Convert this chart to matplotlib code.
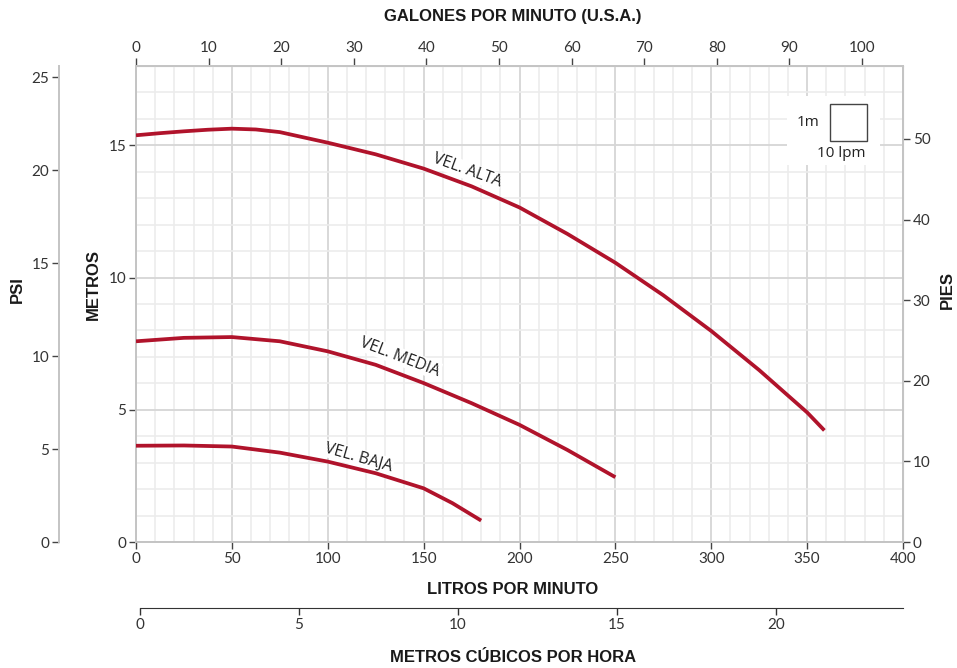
import matplotlib
matplotlib.use("Agg")
import matplotlib.pyplot as plt
from matplotlib.ticker import MultipleLocator
from matplotlib.patches import Rectangle

# caudal en litros por minuto, altura en metros
alta_lpm = [0, 12.5, 25, 37.5, 50, 62.5, 75, 100, 125, 150, 175, 200, 225, 250, 275, 300, 325, 350, 359]
alta_m = [15.38, 15.46, 15.53, 15.59, 15.63, 15.60, 15.50, 15.10, 14.66, 14.12, 13.45, 12.65,
          11.65, 10.56, 9.33, 7.98, 6.50, 4.90, 4.22]

media_lpm = [0, 25, 50, 75, 100, 125, 150, 175, 200, 225, 250]
media_m = [7.59, 7.72, 7.75, 7.59, 7.21, 6.70, 6.01, 5.25, 4.43, 3.48, 2.45]

baja_lpm = [0, 25, 50, 75, 100, 125, 150, 165, 180]
baja_m = [3.64, 3.65, 3.61, 3.38, 3.04, 2.60, 2.03, 1.47, 0.81]

curve_labels = ['VEL. ALTA', 'VEL. MEDIA', 'VEL. BAJA']

lpm_ticks = [0, 50, 100, 150, 200, 250, 300, 350, 400]
m_ticks = [0, 5, 10, 15]
gpm_ticks = [0, 10, 20, 30, 40, 50, 60, 70, 80, 90, 100]
ft_ticks = [0, 10, 20, 30, 40, 50]
psi_ticks = [0, 5, 10, 15, 20, 25]
m3h_ticks = [0, 5, 10, 15, 20]

RED = '#b0132b'
TICKFONT = 'Lato'
BOLDFONT = ['Liberation Sans Narrow', 'Liberation Sans', 'DejaVu Sans']

W, H = 957, 668
fig = plt.figure(figsize=(W / 100, H / 100), dpi=100)

def box(x0, y0, x1, y1):
    # pixel box -> figure fraction
    return [x0 / W, 1 - y1 / H, (x1 - x0) / W, (y1 - y0) / H]

ax = fig.add_axes(box(136, 66, 903, 542))
ax.set_xlim(0, 400)
ax.set_ylim(0, 18)

ax.xaxis.set_major_locator(MultipleLocator(50))
ax.xaxis.set_minor_locator(MultipleLocator(10))
ax.yaxis.set_major_locator(MultipleLocator(5))
ax.yaxis.set_minor_locator(MultipleLocator(1))
ax.set_xticks(lpm_ticks)
ax.set_yticks(m_ticks)
ax.grid(which='minor', color='#ececec', lw=1.2)
ax.grid(which='major', color='#d6d6d6', lw=1.3)
ax.set_axisbelow(True)
for s in ax.spines.values():
    s.set_color('#c4c4c4')
    s.set_linewidth(1.4)
ax.tick_params(which='minor', length=0)
ax.tick_params(which='major', length=5, width=1, color='#444444', labelsize=11,
               labelcolor='#333333', pad=2)
for lab in ax.get_xticklabels() + ax.get_yticklabels():
    lab.set_family(TICKFONT)

ax.plot(alta_lpm, alta_m, color=RED, lw=2.7, solid_capstyle='butt', solid_joinstyle='round', zorder=4)
ax.plot(media_lpm, media_m, color=RED, lw=2.7, solid_capstyle='butt', solid_joinstyle='round', zorder=4)
ax.plot(baja_lpm, baja_m, color=RED, lw=2.7, solid_capstyle='butt', solid_joinstyle='round', zorder=4)

lab_kw = dict(family='Open Sans', fontsize=11.5, color='#222222', ha='center', va='center',
              rotation_mode='anchor', zorder=3,
              bbox=dict(boxstyle='square,pad=0.05', fc='white', ec='none'))
ax.text(172.5, 14.05, curve_labels[0], rotation=-20, **lab_kw)
ax.text(137.7, 7.0, curve_labels[1], rotation=-21, **lab_kw)
ax.text(115.9, 3.2, curve_labels[2], rotation=-16, **lab_kw)

# escala de referencia
ax.add_patch(Rectangle((339.5, 14.24), 48.5, 2.62, fc='white', ec='none', zorder=2))
ax.add_patch(Rectangle((362, 15.15), 19.3, 1.4, fc='white', ec='#444444', lw=1.0, zorder=3))
ax.text(356.5, 15.85, '1m', family='Open Sans', fontsize=11, color='#222222',
        ha='right', va='center', zorder=4)
ax.text(367.7, 14.7, '10 lpm', family='Open Sans', fontsize=11, color='#222222',
        ha='center', va='center', zorder=4)

# galones por minuto arriba
top = ax.secondary_xaxis('top', functions=(lambda x: x / 3.78541, lambda g: g * 3.78541))
top.set_xticks(gpm_ticks)
top.spines['top'].set_color('#c4c4c4')
top.tick_params(length=6, width=1, color='#444444', labelsize=11, labelcolor='#333333', pad=2)
for lab in top.get_xticklabels():
    lab.set_family(TICKFONT)

# pies a la derecha
right = ax.secondary_yaxis('right', functions=(lambda m: m * 3.28084, lambda f: f / 3.28084))
right.set_yticks(ft_ticks)
right.spines['right'].set_color('#c4c4c4')
right.tick_params(length=5, width=1, color='#444444', labelsize=11, labelcolor='#333333', pad=2)
for lab in right.get_yticklabels():
    lab.set_family(TICKFONT)

# psi a la izquierda
axp = fig.add_axes(box(59, 66, 60, 542))
axp.set_ylim(0, 18 * 1.42197)
axp.set_xticks([])
axp.set_yticks(psi_ticks)
for k in ['top', 'right', 'bottom']:
    axp.spines[k].set_visible(False)
axp.spines['left'].set_color('#c4c4c4')
axp.spines['left'].set_linewidth(1.4)
axp.patch.set_alpha(0)
axp.tick_params(length=5, width=1, color='#444444', labelsize=11, labelcolor='#333333', pad=2)
for lab in axp.get_yticklabels():
    lab.set_family(TICKFONT)

# metros cubicos por hora abajo
axm = fig.add_axes(box(140, 607, 903, 608))
axm.set_xlim(0, 24)
axm.set_yticks([])
axm.set_xticks(m3h_ticks)
for k in ['top', 'right', 'left']:
    axm.spines[k].set_visible(False)
axm.spines['bottom'].set_color('#333333')
axm.patch.set_alpha(0)
axm.tick_params(length=5, width=1, color='#333333', labelsize=11, labelcolor='#333333', pad=2)
for lab in axm.get_xticklabels():
    lab.set_family(TICKFONT)

tkw = dict(family=BOLDFONT, weight='bold', fontsize=12, color='#1a1a1a',
           ha='center', va='center')
fig.text(513 / W, 1 - 17 / H, 'GALONES POR MINUTO (U.S.A.)', **tkw)
fig.text(513 / W, 1 - 589 / H, 'LITROS POR MINUTO', **tkw)
fig.text(513 / W, 1 - 657 / H, 'METROS CÚBICOS POR HORA', **tkw)
fig.text(17 / W, 1 - 290 / H, 'PSI', rotation=90, **tkw)
fig.text(93 / W, 1 - 285 / H, 'METROS', rotation=90, **tkw)
fig.text(947 / W, 1 - 290 / H, 'PIES', rotation=90, **tkw)

fig.savefig('out.png', dpi=100, facecolor='white')
